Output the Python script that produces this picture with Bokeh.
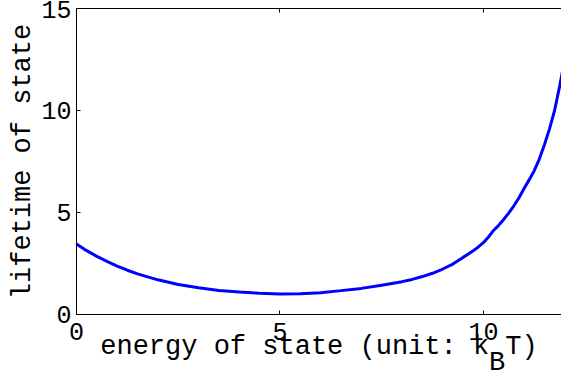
from bokeh.plotting import figure
from bokeh.models import (Range1d, FixedTicker, LinearAxis,
                          CustomJSTickFormatter)
from bokeh.embed import file_html
from bokeh.resources import INLINE

# data
energy = [0, 0.25, 0.5, 0.75, 1, 1.25, 1.5, 2, 2.5, 3, 3.5, 4, 4.5, 5, 5.5,
          6, 6.5, 7, 7.5, 8, 8.25, 8.5, 8.75, 9, 9.25, 9.5, 9.75, 9.875, 10,
          10.125, 10.25, 10.375, 10.5, 10.625, 10.75, 10.875, 11, 11.125,
          11.25, 11.375, 11.5, 11.625, 11.75, 11.875, 12]
lifetime = [3.45, 3.13, 2.85, 2.60, 2.37, 2.17, 1.99, 1.70, 1.47, 1.31,
            1.18, 1.10, 1.04, 1.01, 1.02, 1.07, 1.17, 1.28, 1.43, 1.61,
            1.72, 1.86, 2.02, 2.23, 2.47, 2.80, 3.12, 3.31, 3.52, 3.80,
            4.12, 4.37, 4.66, 4.98, 5.33, 5.72, 6.18, 6.60, 7.05, 7.62,
            8.32, 9.10, 10.0, 11.2, 12.5]
x_ticks = [0, 5, 10]
y_ticks = [0, 5, 10, 15]
x_label_main = "energy of state (unit: k T)"
x_label_sub = "B"
y_label = "lifetime of state"

FONT = "Liberation Mono"
NB = "\u00a0"
# subscript B on a second line, in the column between "k" and "T"
sub_col = x_label_main.index("k T") + 1
x_label = (x_label_main + "\n" + NB * sub_col + x_label_sub
           + NB * (len(x_label_main) - sub_col - 1))

p = figure(width=561, height=381, output_backend="svg", toolbar_location=None,
           x_range=Range1d(0, 11.92), y_range=Range1d(0, 15),
           min_border_left=76, min_border_right=0, min_border_top=8,
           min_border_bottom=65)
p.outline_line_color = None
p.grid.visible = False
p.background_fill_color = "white"
p.border_fill_color = "white"

p.line(energy, lifetime, line_color="#0000ff", line_width=3)

for ax in (p.xaxis[0], p.yaxis[0]):
    ax.axis_line_color = "black"
    ax.axis_line_width = 1
    ax.major_tick_in = 4
    ax.major_tick_out = 0
    ax.minor_tick_line_color = None
    ax.major_tick_line_color = "black"
    ax.major_label_text_font = FONT
    ax.major_label_text_font_size = "25px"
    ax.major_label_text_color = "black"
    ax.axis_label_text_font = FONT
    ax.axis_label_text_font_size = "27px"
    ax.axis_label_text_font_style = "normal"
    ax.axis_label_text_color = "black"

p.xaxis[0].ticker = FixedTicker(ticks=x_ticks)
p.yaxis[0].ticker = FixedTicker(ticks=y_ticks)
p.xaxis[0].major_label_standoff = 8
p.yaxis[0].major_label_standoff = 5

p.yaxis[0].axis_label = y_label
p.yaxis[0].axis_label_standoff = 0
p.xaxis[0].axis_label = x_label
p.xaxis[0].axis_label_text_line_height = 0.56
p.xaxis[0].axis_label_standoff = -11

top = LinearAxis(ticker=FixedTicker(ticks=x_ticks),
                 formatter=CustomJSTickFormatter(code="return ''"))
top.major_label_text_font_size = "0px"
top.major_label_standoff = 0
top.major_tick_in = 4
top.major_tick_out = 0
top.minor_tick_line_color = None
top.axis_line_color = "black"
p.add_layout(top, "above")

open("out.html", "w").write(file_html(p, INLINE))
